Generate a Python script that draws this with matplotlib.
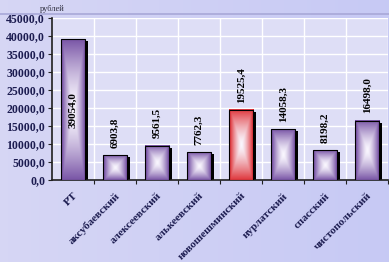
import numpy as np
import matplotlib
matplotlib.use("Agg")
import matplotlib.pyplot as plt
from matplotlib.transforms import offset_copy
from matplotlib.patches import Rectangle

categories = ["РТ", "аксубаевский", "алексеевский", "алькеевский",
              "новошешминский", "нурлатский", "спасский", "чистопольский"]
values = [39054.0, 6903.8, 9561.5, 7762.3, 19525.4, 14058.3, 8198.2, 16498.0]
value_labels = ["39054,0", "6903,8", "9561,5", "7762,3",
                "19525,4", "14058,3", "8198,2", "16498,0"]
highlight = "новошешминский"
y_ticks = np.arange(0, 45001, 5000)

TEXT = "#1c1c50"
FONT = ["Liberation Serif", "DejaVu Serif"]


def bar_gradient(edge_rgb, n=80):
    # rectangular gradient: coloured edges fading to white in the middle
    u = np.linspace(-1, 1, n)
    xx, yy = np.meshgrid(u, u)
    d = np.maximum(np.abs(xx), np.abs(yy) * 0.9)
    t = np.clip(d, 0, 1) ** 1.4
    edge = np.array(edge_rgb)
    white = np.array([0.98, 0.97, 1.0])
    return white[None, None, :] * (1 - t[..., None]) + edge[None, None, :] * t[..., None]


fig = plt.figure(figsize=(3.89, 2.62), dpi=100)

# background of the whole chart area
bg = fig.add_axes([0, 0, 1, 1], zorder=-5)
gx = np.linspace(0, 1, 100)
left_c = np.array([0.84, 0.84, 0.96])
right_c = np.array([0.78, 0.79, 0.96])
bg_img = left_c[None, :] * (1 - gx[:, None]) + right_c[None, :] * gx[:, None]
bg.imshow(bg_img[None, :, :], extent=[0, 1, 0, 1], aspect="auto")
bg.axhline(0.945, color="#a8a8d8", lw=1.2)
bg.set_xlim(0, 1)
bg.set_ylim(0, 1)
bg.axis("off")

ax = fig.add_axes([52 / 389, 1 - 180 / 262, 336 / 389, 162 / 262])
ax.set_facecolor("#dedef6")

x = np.arange(len(categories))
w = 0.58
shadow_tr = offset_copy(ax.transData, fig=fig, x=3, y=-2, units="dots")
for xi, v, cat, lab in zip(x, values, categories, value_labels):
    edge = (0.86, 0.10, 0.12) if cat == highlight else (0.40, 0.24, 0.60)
    ax.add_patch(Rectangle((xi - w / 2, 0), w, v, facecolor="black",
                           edgecolor="none", transform=shadow_tr, zorder=2))
    ax.imshow(bar_gradient(edge), extent=[xi - w / 2, xi + w / 2, 0, v],
              aspect="auto", zorder=3, interpolation="bilinear")
    ax.add_patch(Rectangle((xi - w / 2, 0), w, v, facecolor="none",
                           edgecolor="black", lw=0.8, zorder=4))
    if v > 30000:
        ax.text(xi, v / 2, lab, rotation=90, ha="center", va="center",
                fontsize=8, fontweight="bold", family=FONT, color="black", zorder=5)
    else:
        ax.text(xi, v + 2000, lab, rotation=90, ha="center", va="bottom",
                fontsize=8, fontweight="bold", family=FONT, color="black", zorder=5)

ax.set_xlim(-0.5, len(categories) - 0.5)
ax.set_ylim(0, 45000)
ax.set_yticks(y_ticks)
ax.set_yticklabels([f"{t:.1f}".replace(".", ",") for t in y_ticks],
                   fontsize=8.5, fontweight="bold", family=FONT, color=TEXT)
ax.set_xticks(x + 0.5, minor=False)
ax.set_xticklabels([])
ax.set_xticks(x, minor=True)
ax.set_xticklabels(categories, minor=True, rotation=45, ha="right",
                   rotation_mode="anchor", fontsize=8, fontweight="bold",
                   family=FONT, color=TEXT)
ax.tick_params(axis="x", which="minor", length=0, pad=8)
ax.tick_params(axis="x", which="major", length=3, direction="out", color="#202020")
ax.tick_params(axis="y", length=3, direction="out", color="#202020", pad=2)

ax.grid(True, which="major", color="white", lw=1.0, zorder=0)
ax.set_axisbelow(True)
for s in ["top", "right"]:
    ax.spines[s].set_visible(False)
ax.spines["left"].set_color("#202020")
ax.spines["bottom"].set_color("#202020")
ax.spines["left"].set_linewidth(1.2)
ax.spines["bottom"].set_linewidth(1.2)

fig.text(40 / 389, 1 - 9 / 262, "рублей", fontsize=6, family=FONT,
         color="#303040", ha="left", va="center")

fig.savefig("out.png", dpi=100)
